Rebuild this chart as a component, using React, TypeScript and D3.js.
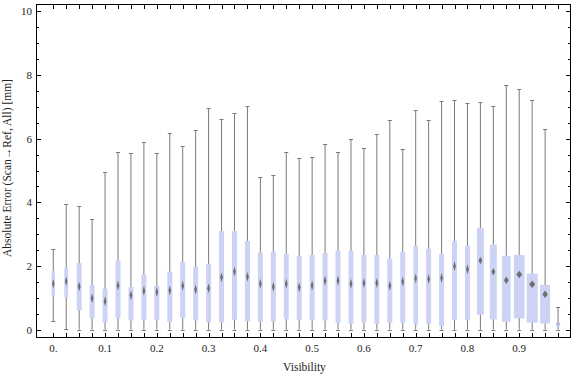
import React from "react";
import * as d3 from "d3";

const visibility = d3.range(40).map((i) => i * 0.025);
const whiskerMin = [0.26, 0.02, 0, 0, 0, 0, 0, 0, 0, 0, 0, 0, 0, 0, 0, 0, 0, 0, 0, 0, 0, 0, 0, 0, 0, 0, 0, 0, 0, 0, 0, 0, 0, 0, 0, 0, 0, 0, 0, 0];
const q1 = [1.05, 1.01, 0.61, 0.36, 0.23, 0.36, 0.29, 0.31, 0.29, 0.25, 0.36, 0.29, 0.23, 0.23, 0.31, 0.26, 0.26, 0.26, 0.33, 0.31, 0.29, 0.29, 0.22, 0.19, 0.22, 0.19, 0.22, 0.22, 0.16, 0.19, 0.1, 0.31, 0.29, 0.47, 0.32, 0.25, 0.35, 0.22, 0.19, 0.08];
const medians = [1.44, 1.52, 1.36, 0.99, 0.89, 1.39, 1.08, 1.22, 1.18, 1.23, 1.38, 1.26, 1.3, 1.65, 1.83, 1.66, 1.44, 1.35, 1.44, 1.33, 1.39, 1.54, 1.54, 1.44, 1.47, 1.47, 1.38, 1.51, 1.61, 1.59, 1.62, 1.99, 1.9, 2.17, 1.82, 1.55, 1.73, 1.43, 1.11, 0.18];
const q3 = [1.85, 1.95, 2.09, 1.41, 1.29, 2.17, 1.34, 1.73, 1.38, 1.82, 2.12, 1.98, 2.07, 3.1, 3.1, 2.79, 2.42, 2.45, 2.37, 2.31, 2.35, 2.41, 2.48, 2.48, 2.35, 2.35, 2.23, 2.45, 2.64, 2.54, 2.38, 2.79, 2.64, 3.2, 2.67, 2.32, 2.35, 1.76, 1.41, 0.24];
const whiskerMax = [2.53, 3.94, 3.87, 3.47, 4.94, 5.58, 5.54, 5.89, 5.54, 6.17, 5.77, 6.26, 6.96, 6.61, 6.8, 7.02, 4.79, 4.85, 5.58, 5.39, 5.42, 5.83, 5.58, 5.98, 5.7, 6.14, 6.58, 5.67, 6.89, 6.58, 7.18, 7.21, 7.11, 7.14, 7.02, 7.68, 7.55, 7.21, 6.3, 0.71];
const boxWidthPx = [3.4, 3.8, 5, 5, 5, 5, 5, 5, 5, 5, 5, 5, 5, 5, 5, 5, 5, 5, 5, 5, 5, 5, 5, 5, 5, 5, 5, 5, 4.5, 5, 5, 5, 5, 7, 7, 8.7, 10.7, 11, 10, 4];

const xLabels = ["0.", "0.1", "0.2", "0.3", "0.4", "0.5", "0.6", "0.7", "0.8", "0.9"];
const yMajor = [0, 2, 4, 6, 8, 10];
const yMinor = d3.range(0, 10.01, 0.5).filter((v) => Math.abs(v % 2) > 1e-6);

export default function App() {
  const W = 576, H = 377;
  const left = 36, right = 571, top = 4, bottom = 337;
  const x = d3.scaleLinear().domain([-0.0334, 1.0]).range([left, right]);
  const y = d3.scaleLinear().domain([-0.23, 10.23]).range([bottom, top]);
  const font = "'Liberation Serif', 'DejaVu Serif', serif";
  const whiskerColor = "#7a7a7a";
  const boxFill = "#cdd3f5";

  return (
    <svg width={W} height={H} style={{ position: "absolute", left: 0, top: 0, background: "#fff" }} xmlns="http://www.w3.org/2000/svg">
      <defs>
        <filter id="soft" x="-50%" y="-50%" width="200%" height="200%">
          <feGaussianBlur stdDeviation="0.55" />
        </filter>
      </defs>
      {visibility.map((v, i) => {
        const cx = x(v);
        const bw = boxWidthPx[i];
        const capW = 4;
        const boxH = y(q1[i]) - y(q3[i]);
        let dw = Math.max(2.4, bw * 0.55);
        let dh = bw > 6 ? 7.5 : 10;
        if (boxH < 8) {
          dh = boxH * 0.7;
          dw = Math.min(dw, 2.5);
        }
        const my = y(medians[i]);
        return (
          <g key={i}>
            <line x1={cx} x2={cx} y1={y(whiskerMax[i])} y2={y(whiskerMin[i])} stroke={whiskerColor} strokeWidth={1} />
            <line x1={cx - capW / 2} x2={cx + capW / 2} y1={Math.round(y(whiskerMax[i])) + 0.5} y2={Math.round(y(whiskerMax[i])) + 0.5} stroke={whiskerColor} strokeWidth={1} />
            <line x1={cx - capW / 2} x2={cx + capW / 2} y1={Math.round(y(whiskerMin[i])) + 0.5} y2={Math.round(y(whiskerMin[i])) + 0.5} stroke={whiskerColor} strokeWidth={1} />
            <rect x={cx - bw / 2} width={bw} y={y(q3[i])} height={boxH} fill={boxFill} />
            <path
              d={`M${cx},${my - dh / 2} L${cx + dw / 2},${my} L${cx},${my + dh / 2} L${cx - dw / 2},${my} Z`}
              fill={boxH < 8 ? "#a0a4c0" : "#6f6f6f"}
              filter="url(#soft)"
            />
          </g>
        );
      })}
      <rect x={left + 0.5} y={top + 0.5} width={right - left - 1} height={bottom - top} fill="none" stroke="#000" strokeWidth={1} />
      {visibility.map((v, i) => {
        const px = Math.round(x(v)) + 0.5;
        return (
          <g key={"xt" + i}>
            <line x1={px} x2={px} y1={bottom + 0.5} y2={bottom - 4} stroke="#000" strokeWidth={1} />
            <line x1={px} x2={px} y1={top + 0.5} y2={top + 5} stroke="#000" strokeWidth={1} />
          </g>
        );
      })}
      {xLabels.map((lab, k) => (
        <text key={"xl" + k} x={x(visibility[k * 4])} y={352} fontFamily={font} fontSize={11} textAnchor="middle" fill="#222">
          {lab}
        </text>
      ))}
      {yMajor.map((v) => {
        const py = Math.round(y(v)) + 0.5;
        return (
          <g key={"ym" + v}>
            <line x1={left} x2={left + 5} y1={py} y2={py} stroke="#000" strokeWidth={1} />
            <line x1={right - 5} x2={right} y1={py} y2={py} stroke="#000" strokeWidth={1} />
            <text x={32} y={py + 3.5} fontFamily={font} fontSize={11} textAnchor="end" fill="#222">
              {v}
            </text>
          </g>
        );
      })}
      {yMinor.map((v) => {
        const py = Math.round(y(v)) + 0.5;
        return (
          <g key={"yn" + v}>
            <line x1={left} x2={left + 3} y1={py} y2={py} stroke="#000" strokeWidth={1} />
            <line x1={right - 3} x2={right} y1={py} y2={py} stroke="#000" strokeWidth={1} />
          </g>
        );
      })}
      <text x={(left + right) / 2 + 1} y={371} fontFamily={font} fontSize={11.5} textAnchor="middle" fill="#222">
        Visibility
      </text>
      <text transform={`translate(11, 168) rotate(-90)`} fontFamily={font} fontSize={11.5} textAnchor="middle" fill="#222">
        Absolute Error (Scan→Ref, All) [mm]
      </text>
    </svg>
  );
}
